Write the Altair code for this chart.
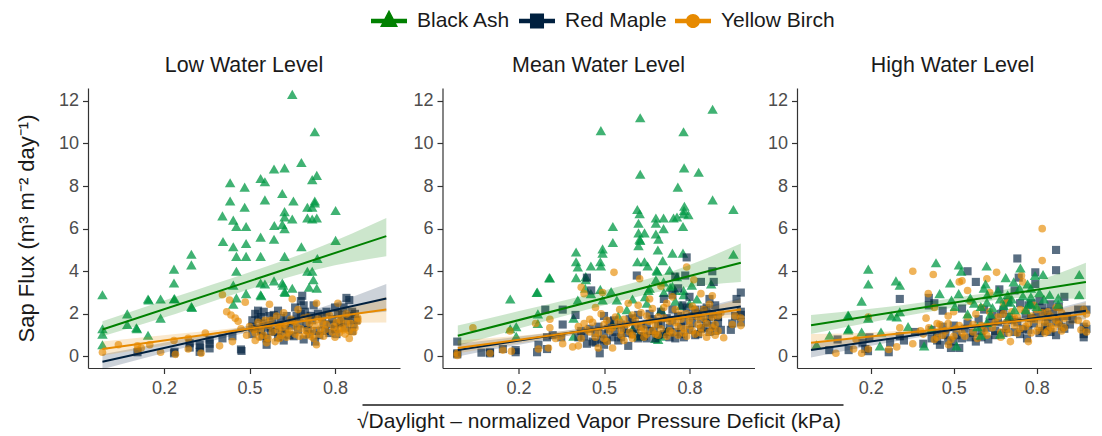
import altair as alt
import pandas as pd

species = ["Black Ash", "Red Maple", "Yellow Birch"]
colors = ["#008000", "#00203f", "#e78a00"]
point_colors = ["#009844", "#00203f", "#e78a00"]
point_opacity = [0.75, 0.65, 0.65]
shapes = ["triangle-up", "square", "circle"]
sizes = [110, 66, 58]
legend_paths = [
    "M-1,-0.13H1V0.13H-1Z M-0.5,0.33L0,-0.62L0.5,0.33Z",
    "M-1,-0.13H1V0.13H-1Z M-0.39,-0.41H0.39V0.41H-0.39Z",
    "M-1,-0.13H1V0.13H-1Z M0.39,0A0.39,0.39 0 1 1 -0.39,0A0.39,0.39 0 1 1 0.39,0Z",
]
panel_titles = ["Low Water Level", "Mean Water Level", "High Water Level"]
x_ticks = [0.2, 0.5, 0.8]
y_ticks = [0, 2, 4, 6, 8, 10, 12]

low_ash = [(-.016,2.9),(-.016,1.3),(-.016,1.05),(-.016,.55),(.071,2.0),(.071,1.5),(.103,1.35),(.105,1.3),(.144,2.7),(.146,2.65),(.144,1.0),(.188,2.7),(.188,1.8),(.235,4.1),(.235,3.45),(.235,2.7),(.237,2.72),(.296,4.8),(.296,4.3),(.296,2.35),(.298,2.3),(.405,6.6),(.407,5.4),(.432,8.15),(.432,7.3),(.443,6.4),(.454,6.1),(.443,5.15),(.454,4.7),(.454,4.0),(.443,3.35),(.454,2.75),(.443,2.45),(.483,7.95),(.483,7.0),(.488,6.1),(.488,5.3),(.488,4.7),(.488,2.95),(.539,8.35),(.554,8.2),(.554,7.35),(.539,5.6),(.539,4.7),(.539,3.45),(.554,3.4),(.539,2.9),(.541,2.85),(.586,8.8),(.587,6.15),(.586,5.5),(.586,3.55),(.623,8.85),(.615,7.65),(.623,6.8),(.623,6.55),(.615,6.2),(.623,6.0),(.623,4.7),(.615,3.45),(.618,3.35),(.623,3.05),(.625,3.0),(.65,12.3),(.654,7.3),(.65,6.45),(.65,3.2),(.682,9.1),(.682,5.15),(.703,7.0),(.703,6.5),(.72,8.3),(.729,10.55),(.736,8.5),(.729,7.3),(.729,7.2),(.72,7.0),(.72,6.45),(.736,6.5),(.738,4.6),(.703,4.0),(.72,4.0),(.724,3.6),(.709,3.25),(.736,3.2),(.802,6.85),(.802,5.45)]
low_maple = [(.107,.2),(.235,.15),(.237,.22),(.29,.42),(.29,.62),(.325,.22),(.327,.42),(.325,.55),(.36,.38),(.36,.6),(.36,.78),(.405,.85),(.44,.95),(.47,.33),(.472,.26),(.51,1.05),(.51,1.4),(.51,1.7),(.52,2.0),(.53,2.15),(.54,1.85),(.54,1.2),(.55,1.55),(.55,2.1),(.56,.85),(.56,.55),(.57,1.9),(.575,1.2),(.58,1.6),(.6,.9),(.6,2.15),(.605,1.45),(.61,1.8),(.62,.75),(.625,1.3),(.64,1.0),(.65,1.65),(.66,2.3),(.665,1.9),(.67,1.25),(.68,2.0),(.68,2.6),(.685,2.85),(.69,2.4),(.69,.8),(.7,1.5),(.71,1.05),(.72,1.7),(.725,2.4),(.73,.7),(.735,1.2),(.74,2.0),(.76,1.5),(.77,2.1),(.78,1.1),(.79,1.75),(.8,2.3),(.8,1.3),(.81,2.0),(.82,1.6),(.83,2.3),(.84,2.75),(.85,2.65),(.85,1.9),(.86,1.2),(.86,2.1),(.875,1.7),
             (.52,1.3),(.53,1.75),(.545,.95),(.565,1.35),(.585,1.95),(.59,1.15),(.615,1.05),(.63,1.9),(.645,1.45),(.655,.95),(.675,1.55),(.695,2.1),(.705,1.25),(.715,1.9),(.745,1.0),(.755,1.85),(.765,1.2),(.785,1.5),(.805,1.05),(.815,1.55),(.825,1.95),(.835,1.35),(.845,1.7),(.865,1.5),(.87,2.0)]
low_birch = [(-.016,.2),(.04,.55),(.107,.5),(.107,.3),(.12,.4),(.15,.55),(.188,.2),(.235,.75),(.24,.1),(.285,.35),(.285,.85),(.33,.15),(.345,1.1),(.395,.5),(.405,2.9),(.43,2.65),(.42,2.1),(.435,1.95),(.45,1.8),(.46,1.65),(.44,.7),(.47,1.3),(.485,2.55),(.49,1.0),(.5,1.4),(.52,.75),(.52,1.1),(.53,1.6),(.54,1.3),(.55,1.0),(.555,1.7),(.56,.65),(.57,2.45),(.57,1.45),(.58,1.15),(.59,.7),(.595,1.9),(.6,1.25),(.61,1.0),(.62,2.05),(.625,1.5),(.63,.9),(.64,1.2),(.65,2.7),(.655,1.65),(.66,1.05),(.67,2.2),(.68,1.3),(.69,1.8),(.695,1.0),(.71,1.55),(.72,1.2),(.725,.85),(.735,.55),(.735,2.5),(.74,1.75),(.75,1.3),(.76,.95),(.77,1.5),(.78,1.95),(.79,1.15),(.8,.9),(.81,2.5),(.81,1.25),(.82,1.7),(.83,1.25),(.84,1.55),(.84,2.0),(.85,1.2),(.85,.85),(.87,1.35),(.88,1.65),(.88,1.8),
             (.515,1.25),(.535,.9),(.545,1.45),(.565,.85),(.575,1.7),(.6,1.45),(.605,.85),(.615,1.35),(.635,1.1),(.645,1.75),(.665,1.4),(.675,.95),(.7,1.2),(.705,1.85),(.715,.95),(.73,1.45),(.745,1.05),(.755,1.6),(.765,1.25),(.795,1.4),(.805,1.6),(.815,1.1),(.825,1.35),(.835,1.05),(.855,1.55),(.865,1.15)]

mean_ash = [(.171,2.7),(.171,1.3),(.192,1.4),(.192,.95),(.264,3.0),(.266,3.02),(.268,2.0),(.268,1.55),(.308,3.7),(.31,3.68),(.393,1.8),(.402,4.9),(.402,4.45),(.408,4.2),(.402,3.7),(.408,2.65),(.393,.95),(.436,3.75),(.436,3.6),(.434,3.2),(.454,4.25),(.454,2.95),(.487,4.45),(.489,4.25),(.495,5.05),(.495,4.85),(.489,10.6),(.487,3.15),(.495,2.65),(.531,6.1),(.531,5.35),(.525,3.05),(.545,2.65),(.627,11.2),(.627,8.55),(.617,6.9),(.625,6.7),(.621,6.25),(.621,5.8),(.625,5.5),(.627,5.45),(.621,5.2),(.617,4.45),(.642,4.45),(.642,5.8),(.653,4.25),(.656,3.1),(.644,2.8),(.682,6.5),(.682,6.25),(.682,5.75),(.691,5.5),(.689,5.0),(.709,6.0),(.709,6.5),(.706,4.5),(.685,4.05),(.687,4.0),(.682,3.6),(.709,3.5),(.74,4.85),(.744,6.5),(.759,7.95),(.756,6.55),(.73,4.05),(.732,3.25),(.75,3.1),(.779,10.55),(.781,8.85),(.832,8.65),(.782,7.05),(.781,6.85),(.779,6.7),(.796,6.65),(.777,6.1),(.777,4.85),(.756,3.75),(.779,3.1),(.808,3.35),(.826,2.7),(.881,11.6),(.881,7.35),(.954,6.9),(.954,4.8),(.876,3.4),(.62,.95),(.68,.85),(.69,.8),(.7,.95),(.72,1.2),(.6,1.3),(.53,1.5),
            (.55,1.9),(.58,2.2),(.65,2.5),(.7,2.2),(.75,2.6),(.78,2.9),(.77,2.4),(.74,3.3),(.6,2.7),(.66,3.2),(.71,3.0),(.8,2.5)]
mean_maple = [(-.015,.7),(-.015,.15),(-.015,.1),(.07,.18),(.1,.15),(.1,.2),(.145,.35),(.19,.2),(.19,.3),(.265,.2),(.27,.55),(.3,.35),(.3,.9),(.294,2.2),(.355,2.2),(.355,1.5),(.32,1.0),(.35,.9),(.4,1.95),(.41,.9),(.42,1.2),(.44,.6),(.44,3.7),(.455,3.1),(.46,.7),(.47,1.1),(.485,.15),(.49,.8),(.5,1.9),(.5,.55),(.515,1.3),(.53,.9),(.535,1.7),(.55,.75),(.57,1.3),(.585,.5),(.6,1.05),(.6,1.8),(.615,3.8),(.62,.85),(.63,1.4),(.64,.95),(.65,.85),(.66,2.0),(.675,1.2),(.69,1.0),(.7,1.5),(.71,2.7),(.72,1.15),(.73,.9),(.74,2.9),(.74,1.7),(.75,.85),(.75,3.75),(.76,3.2),(.77,1.4),(.775,2.4),(.78,.9),(.785,3.8),(.79,4.65),(.8,2.8),(.81,1.9),(.82,1.0),(.83,2.0),(.84,1.3),(.84,3.5),(.85,2.2),(.86,1.6),(.87,2.7),(.88,2.0),(.88,4.0),(.885,3.5),(.89,1.2),(.9,1.6),(.95,1.55),(.945,1.25),(.96,1.9),(.965,2.7),(.98,3.0),(.98,1.6),(.98,1.95),(.98,2.1),
              (.43,.95),(.45,1.3),(.47,.65),(.48,1.4),(.5,1.05),(.51,.75),(.52,1.65),(.54,1.15),(.56,1.5),(.56,.9),(.58,1.1),(.59,1.75),(.61,1.3),(.62,1.95),(.63,.95),(.65,1.5),(.66,1.2),(.67,1.75),(.68,.85),(.69,1.55),(.7,2.1),(.71,1.05),(.72,1.8),(.73,1.35),(.74,2.2),(.75,1.15),(.76,1.9),(.77,1.05),(.78,1.65),(.79,2.3),(.8,1.25),(.81,1.55),(.82,2.2),(.83,1.05),(.84,1.75),(.85,1.35),(.86,2.3),(.87,1.15),(.87,1.85),(.88,1.45),(.89,2.4),(.9,1.85),(.91,1.25)]
mean_birch = [(-.015,.15),(-.015,.05),(.04,1.35),(.1,.15),(.145,.3),(.175,.25),(.26,1.55),(.17,1.2),(.27,.35),(.305,.4),(.31,1.75),(.31,1.35),(.35,.95),(.355,.6),(.33,.85),(.39,.45),(.41,.5),(.42,3.25),(.43,2.95),(.43,1.55),(.45,1.75),(.45,1.15),(.47,2.3),(.47,.9),(.48,.4),(.49,2.0),(.495,3.0),(.5,1.5),(.51,.7),(.52,1.2),(.53,.4),(.535,3.95),(.55,1.6),(.555,2.2),(.56,1.0),(.57,.75),(.58,1.5),(.585,2.5),(.6,1.0),(.61,1.7),(.62,2.4),(.625,3.65),(.63,1.2),(.64,.9),(.65,1.9),(.66,2.7),(.67,1.2),(.68,1.5),(.69,1.0),(.7,3.3),(.71,1.8),(.72,2.5),(.73,1.2),(.74,2.8),(.75,1.6),(.76,1.0),(.77,2.0),(.78,1.3),(.79,.95),(.79,4.2),(.8,1.7),(.81,1.2),(.815,3.6),(.82,2.2),(.83,1.5),(.84,2.95),(.84,1.1),(.85,1.8),(.86,.9),(.87,2.45),(.88,1.35),(.88,2.85),(.89,1.0),(.9,1.9),(.92,.88),(.95,1.5),(.96,1.9),(.98,1.45),(.98,1.8),
              (.41,1.4),(.42,.85),(.44,1.25),(.46,1.6),(.48,1.1),(.5,.85),(.51,1.7),(.53,1.35),(.54,1.85),(.56,1.25),(.57,1.75),(.59,1.15),(.6,1.95),(.6,.85),(.62,1.45),(.63,2.05),(.64,1.3),(.65,1.05),(.66,1.65),(.67,2.25),(.68,1.05),(.69,1.85),(.7,1.3),(.71,2.3),(.72,.95),(.73,1.65),(.74,1.1),(.75,2.2),(.76,1.4),(.77,1.75),(.78,1.1),(.79,2.0),(.8,1.45),(.81,2.35),(.82,1.05),(.83,1.85),(.84,1.35),(.85,2.2),(.86,1.55),(.87,1.15),(.88,1.85),(.89,1.5),(.9,1.2),(.91,2.05)]

high_ash = [(.004,.55),(.051,1.0),(.118,1.95),(.12,1.9),(.12,1.3),(.118,1.25),(.167,2.6),(.167,1.15),(.191,4.1),(.191,3.4),(.191,1.8),(.237,1.15),(.233,.5),(.291,3.55),(.305,3.35),(.274,1.9),(.294,1.85),(.305,2.1),(.335,1.4),(.393,.5),(.436,4.4),(.449,2.95),(.487,3.45),(.492,2.65),(.504,2.35),(.519,4.3),(.527,4.0),(.518,2.95),(.51,.5),(.619,4.25),(.615,3.4),(.609,3.2),(.574,2.5),(.621,2.9),(.598,2.35),(.586,1.4),(.598,1.0),(.688,3.7),(.668,2.7),(.695,2.9),(.668,1.05),(.717,3.5),(.741,4.15),(.738,3.2),(.703,2.55),(.767,3.4),(.779,3.2),(.794,3.8),(.823,3.85),(.779,2.8),(.773,2.5),(.826,2.7),(.847,2.9),(.878,2.75),(.954,3.85),(.954,2.9),(.878,2.45),(.633,2.0),(.42,1.3),
            (.56,2.75),(.62,2.55),(.64,2.3),(.66,3.1),(.68,2.4),(.71,2.7),(.72,2.2),(.75,2.85),(.76,2.2),(.78,2.45),(.8,2.35),(.81,3.0),(.62,1.6),(.7,1.9),(.55,2.0)]
high_maple = [(.05,.3),(.08,.8),(.12,.3),(.17,.65),(.18,.35),(.19,.25),(.195,.9),(.265,.2),(.27,.65),(.305,2.7),(.305,.95),(.32,.75),(.36,1.15),(.39,.6),(.41,2.75),(.41,2.4),(.43,2.5),(.42,.85),(.44,1.1),(.45,.55),(.46,2.15),(.48,.75),(.49,.4),(.51,1.0),(.52,.4),(.53,2.25),(.54,1.3),(.55,4.0),(.56,.9),(.58,3.5),(.58,.7),(.6,1.2),(.61,2.2),(.625,.8),(.63,1.6),(.65,1.0),(.665,3.15),(.67,2.0),(.68,1.1),(.695,2.55),(.71,1.7),(.72,3.1),(.73,4.6),(.735,3.7),(.74,2.5),(.75,1.3),(.765,.85),(.77,2.4),(.78,1.8),(.795,3.95),(.795,3.4),(.81,2.6),(.82,1.2),(.83,2.1),(.84,1.5),(.85,2.45),(.87,5.0),(.87,4.05),(.87,1.0),(.88,1.7),(.9,2.8),(.92,1.5),(.95,2.2),(.97,1.05),(.97,1.4),(.98,1.3),(.98,2.2),(.97,.9),(.9,1.3),
              (.42,1.25),(.44,.75),(.46,1.4),(.47,1.0),(.5,.7),(.5,1.45),(.53,.85),(.55,1.55),(.57,1.1),(.59,1.75),(.6,.9),(.62,1.35),(.64,1.9),(.65,1.2),(.66,1.6),(.68,2.2),(.69,1.3),(.7,1.85),(.72,1.15),(.73,1.6),(.74,1.05),(.76,2.0),(.77,1.25),(.78,2.5),(.79,1.55),(.8,1.95),(.81,1.1),(.82,2.3),(.83,1.4),(.84,1.85),(.85,1.15),(.86,2.1),(.87,1.6),(.88,2.35),(.89,1.4),(.91,1.9),(.93,1.75)]
high_birch = [(.074,.15),(.138,.35),(.147,.8),(.167,.15),(.191,.35),(.191,1.85),(.265,.33),(.294,.45),(.305,1.35),(.352,4.0),(.352,.6),(.408,2.95),(.426,3.85),(.43,2.3),(.4,1.8),(.45,1.5),(.46,1.0),(.48,1.9),(.49,.8),(.5,2.1),(.51,1.3),(.481,.55),(.54,.95),(.52,3.5),(.53,3.55),(.55,3.1),(.56,2.6),(.57,1.5),(.585,.85),(.6,2.3),(.62,3.65),(.61,1.2),(.63,3.0),(.65,1.6),(.655,3.95),(.67,.9),(.68,2.0),(.69,1.3),(.7,2.7),(.705,.7),(.72,1.8),(.73,1.1),(.74,2.2),(.745,3.8),(.75,3.5),(.77,.7),(.76,1.4),(.78,1.9),(.79,2.4),(.8,1.2),(.81,1.7),(.82,6.0),(.82,4.5),(.83,1.1),(.84,2.1),(.85,1.4),(.87,1.7),(.88,2.3),(.89,1.2),(.9,1.8),(.95,1.7),(.96,1.25),(.97,2.2),(.98,2.0),(.98,1.15),(.98,1.55),(.38,1.2),(.44,.9),
              (.39,1.05),(.41,1.35),(.43,.8),(.44,1.55),(.47,1.2),(.48,1.55),(.5,.95),(.52,1.45),(.53,1.1),(.55,1.85),(.57,1.15),(.58,2.0),(.6,1.45),(.62,1.0),(.63,2.1),(.64,1.35),(.66,1.85),(.67,1.15),(.68,2.5),(.69,1.6),(.7,1.1),(.71,2.1),(.72,1.45),(.73,1.85),(.74,1.3),(.76,2.15),(.77,1.55),(.78,1.1),(.79,1.75),(.8,2.2),(.81,1.35),(.82,2.05),(.83,1.6),(.84,1.2),(.85,1.9),(.86,1.3),(.87,2.3),(.88,1.5),(.89,2.05),(.9,1.35)]

# fit line: x, y
low_lines = [[(-.016,1.27),(.98,5.65)], [(-.016,-.25),(.98,2.72)], [(-.016,.35),(.98,2.2)]]
mean_lines = [[(-.013,.97),(.98,4.4)], [(-.013,.3),(.98,2.35)], [(-.013,.4),(.98,2.2)]]
high_lines = [[(-.016,1.47),(.978,3.5)], [(-.016,.3),(.978,2.15)], [(-.016,.65),(.978,2.0)]]
# ribbons: x, lower, upper
low_bands = [[(-.016,.95,1.65),(.24,2.0,2.8),(.5,3.15,3.95),(.74,4.1,5.1),(.98,4.7,6.5)],
             [(-.016,-.6,.1),(.24,.3,.75),(.5,1.15,1.45),(.74,1.8,2.25),(.98,2.1,3.4)],
             [(-.016,.05,.7),(.24,.6,1.05),(.5,1.18,1.42),(.74,1.55,1.95),(.98,1.6,2.8)]]
mean_bands = [[(-.013,.5,1.45),(.24,1.45,2.25),(.5,2.4,3.1),(.74,3.15,4.0),(.98,3.5,5.3)],
              [(-.013,0,.6),(.24,.65,1.0),(.5,1.25,1.47),(.74,1.72,2.0),(.98,2.0,2.75)],
              [(-.013,.15,.75),(.24,.7,1.02),(.5,1.22,1.44),(.74,1.63,1.9),(.98,1.85,2.7)]]
high_bands = [[(-.016,1.05,1.95),(.24,1.7,2.3),(.5,2.3,2.75),(.74,2.75,3.3),(.978,2.7,4.4)],
              [(-.016,-.05,.65),(.24,.6,.95),(.5,1.15,1.38),(.74,1.58,1.85),(.978,1.75,2.6)],
              [(-.016,.3,1.05),(.24,.85,1.15),(.5,1.25,1.45),(.74,1.53,1.8),(.978,1.5,2.55)]]

FONT = "Liberation Sans"
TEXT = "#1a1a1a"
y_scale = alt.Scale(domain=[-0.54, 12.6], nice=False, zero=False)

def panel(title, points, lines, bands, order, width, xmax, ytitle, xtitle=None, extra=(), title_dx=0):
    xs = alt.Scale(domain=[-0.0667, xmax], nice=False, zero=False)
    xax = alt.X("x:Q", scale=xs, axis=alt.Axis(values=x_ticks, format=".1f", title=xtitle, labelPadding=6, titlePadding=13, titleFontSize=21))
    y_axis = alt.Axis(values=y_ticks, title=ytitle, labelPadding=4, titlePadding=20, titleFontSize=22)
    yax = alt.Y("y:Q", scale=y_scale, axis=y_axis)
    layers = []
    for i in order:
        df = pd.DataFrame(points[i], columns=["x", "y"])
        layers.append(alt.Chart(df).mark_point(filled=True, opacity=point_opacity[i], strokeWidth=0, size=sizes[i], shape=shapes[i], color=point_colors[i]).encode(x=xax, y=yax))
    for i in range(3):
        df = pd.DataFrame(bands[i], columns=["x", "lo", "hi"])
        layers.append(alt.Chart(df).mark_area(opacity=0.2, color=colors[i], interpolate="monotone").encode(
            x=xax, y=alt.Y("lo:Q", scale=y_scale, axis=y_axis), y2="hi:Q"))
    for i in range(3):
        df = pd.DataFrame(lines[i], columns=["x", "y"])
        layers.append(alt.Chart(df).mark_line(color=colors[i], strokeWidth=2).encode(x=xax, y=yax))
    layers.extend(extra)
    return alt.layer(*layers).properties(width=width, height=280, title=alt.TitleParams(title, fontSize=21.4, fontWeight="normal", font=FONT, color=TEXT, anchor="middle", offset=12, dx=title_dx))

legend_df = pd.DataFrame({"species": species})
legend_layer = alt.Chart(legend_df).mark_point(filled=True, size=0, strokeWidth=0, opacity=1).encode(
    x=alt.value(0), y=alt.value(0),
    shape=alt.Shape("species:N", scale=alt.Scale(domain=species, range=legend_paths),
                    legend=alt.Legend(title=None, orient="none", legendX=283, legendY=-85, direction="horizontal", columns=3,
                                      symbolSize=1296, symbolStrokeWidth=0, symbolOpacity=1, labelFontSize=21, labelFont=FONT, labelColor=TEXT,
                                      labelOffset=10, columnPadding=8, labelLimit=200)),
    color=alt.Color("species:N", scale=alt.Scale(domain=species, range=colors)),
)
overline = alt.Chart(legend_df.head(1)).mark_rule(color=TEXT, strokeWidth=1.5).encode(x=alt.value(-80), x2=alt.value(401), y=alt.value(317))

p1 = panel(panel_titles[0], [low_ash, low_maple, low_birch], low_lines, low_bands, [0, 1, 2], 312, 1.028, "Sap Flux (m³ m⁻² day⁻¹)")
p2 = panel(panel_titles[1], [mean_ash, mean_maple, mean_birch], mean_lines, mean_bands, [0, 1, 2], 312, 1.028, None,
           xtitle="√Daylight – normalized Vapor Pressure Deficit (kPa)", extra=[legend_layer, overline])
p3 = panel(panel_titles[2], [high_ash, high_maple, high_birch], high_lines, high_bands, [1, 2, 0], 295, 1.0, None, title_dx=8)

chart = alt.hconcat(p1, p2, p3, spacing=42.5, bounds="flush").properties(padding={"left": 7, "top": -5, "right": 0, "bottom": 0}, background="white").configure_view(stroke=None).configure_axis(
    domainColor="#333333", domainWidth=1.2, tickColor="#333333", tickWidth=1.2, tickSize=5.5, grid=False,
    labelFont=FONT, labelFontSize=18, labelColor="#4d4d4d",
    titleFont=FONT, titleFontWeight="normal", titleColor=TEXT)
chart.save("out.html", embed_options={"renderer": "svg", "actions": False})
